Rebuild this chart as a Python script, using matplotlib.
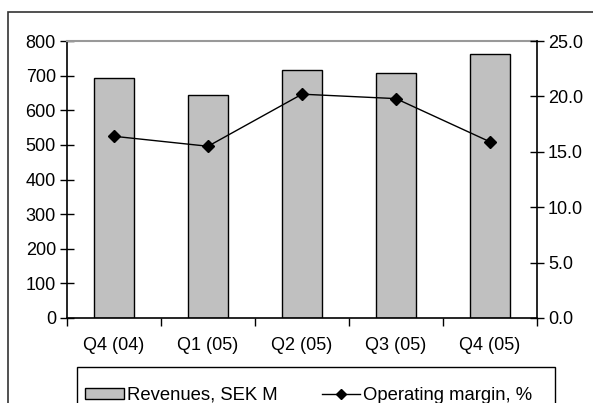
import matplotlib
matplotlib.use("Agg")
import matplotlib.pyplot as plt
from matplotlib.patches import Rectangle, Patch
from matplotlib.lines import Line2D
import numpy as np

plt.rcParams['font.family'] = ['Liberation Sans', 'DejaVu Sans']

categories = ["Q4 (04)", "Q1 (05)", "Q2 (05)", "Q3 (05)", "Q4 (05)"]
revenues = [694, 644, 715, 707, 762]
margin = [16.4, 15.5, 20.2, 19.8, 15.9]
left_ticks = [0, 100, 200, 300, 400, 500, 600, 700, 800]
right_ticks = [0.0, 5.0, 10.0, 15.0, 20.0, 25.0]

W, H = 593, 403
fig = plt.figure(figsize=(W/100, H/100), dpi=100)

# outer frame
fig.patches.append(Rectangle((8/W, -0.1), 1.2, (H-12)/H + 0.1, transform=fig.transFigure,
                             fill=False, edgecolor='#333333', linewidth=1.2))
# legend frame (extends below figure edge as in reference)
fig.patches.append(Rectangle((77/W, -0.1), (555-77)/W, (H-367)/H + 0.1, transform=fig.transFigure,
                             fill=False, edgecolor='black', linewidth=1.0))

ax = fig.add_axes([67/W, (H-318)/H, (537-67)/W, (318-41)/H])
x = np.arange(len(categories))
ax.bar(x, revenues, width=0.42, color='#c0c0c0', edgecolor='black', linewidth=1.0, zorder=2)
ax.set_xlim(-0.5, len(categories)-0.5)
ax.set_ylim(0, 800)
ax.set_yticks(left_ticks)
ax.set_yticklabels([str(t) for t in left_ticks], fontsize=13)
ax.set_xticks(x)
ax.set_xticklabels(categories, fontsize=13)
ax.tick_params(axis='x', length=0, pad=14)
ax.set_xticks(np.arange(-0.5, len(categories), 1.0), minor=True)
ax.tick_params(axis='x', which='minor', length=6, direction='out', width=1)
ax.tick_params(axis='y', direction='inout', length=10, width=1, pad=3)
for s in ['left', 'bottom']:
    ax.spines[s].set_linewidth(1.2)
ax.spines['top'].set_color('#999999')
ax.spines['top'].set_linewidth(1.5)
ax.spines['right'].set_visible(False)

ax2 = ax.twinx()
ax2.plot(x, margin, color='black', linewidth=1.0, marker='D', markersize=6, zorder=3)
ax2.set_ylim(0, 25)
ax2.set_yticks(right_ticks)
ax2.set_yticklabels([f"{t:.1f}" for t in right_ticks], fontsize=13)
ax2.tick_params(axis='y', direction='inout', length=10, width=1, pad=3)
ax2.spines['right'].set_linewidth(1.2)
for s in ['top', 'left', 'bottom']:
    ax2.spines[s].set_visible(False)

handles = [Patch(facecolor='#c0c0c0', edgecolor='black', linewidth=1.0),
           Line2D([0], [0], color='black', linewidth=1.0, marker='D', markersize=5)]
leg = fig.legend(handles, ["Revenues, SEK M", "Operating margin, %"], ncol=2,
                 loc='upper left', bbox_to_anchor=(85/W, (H-387)/H), fontsize=13.3,
                 frameon=False, borderpad=0,
                 borderaxespad=0, handlelength=2.1, handleheight=0.55,
                 handletextpad=0.15, columnspacing=2.4)

fig.savefig("out.png", dpi=100)
